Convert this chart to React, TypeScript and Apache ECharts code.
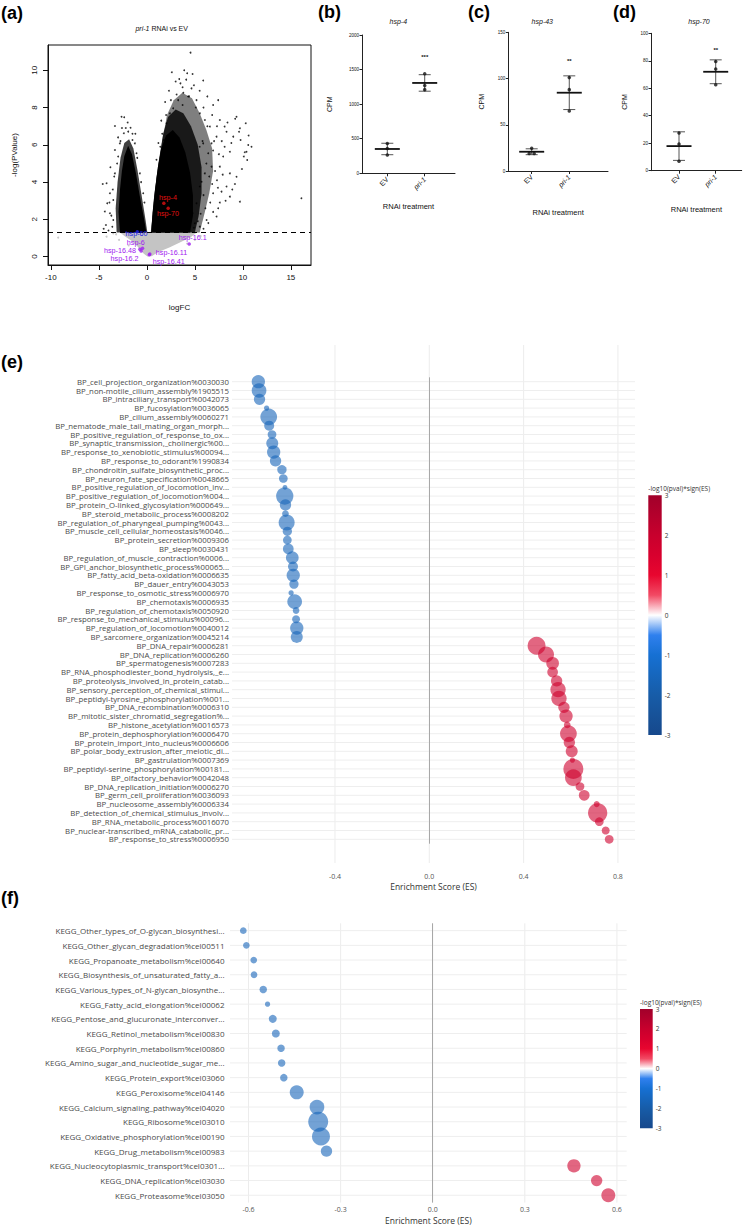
import React, { useEffect, useRef } from "react";
import * as echarts from "echarts";

// ================= Panel (a): volcano plot =================
const volcanoXTicks = [-10, -5, 0, 5, 10, 15];
const volcanoYTicks = [0, 2, 4, 6, 8, 10];
const pThreshold = 1.3;

// outlines of the regions fully covered by gene points (logFC, -log(P))
const cloudGrey = [[-2.8, 1.3], [-2.3, 1.1], [-1.6, 0.85], [-1.0, 0.55], [-0.4, 0.2], [0.05, 0.0], [0.5, 0.02], [1.2, 0.25], [2.4, 0.5], [3.6, 0.8], [4.6, 1.05], [5.2, 1.3]];
const cloudLeftFringe = [[-3.15, 1.3], [-3.25, 2.6], [-3.05, 4.0], [-2.75, 5.3], [-2.35, 6.1], [-1.85, 6.3], [-1.4, 5.8], [-1.0, 4.7], [-0.55, 3.3], [-0.15, 2.0], [0.05, 1.3]];
const cloudLeftCore = [[-2.8, 1.3], [-2.95, 2.4], [-2.8, 3.6], [-2.6, 4.6], [-2.35, 5.4], [-1.95, 5.95], [-1.55, 5.5], [-1.15, 4.5], [-0.75, 3.3], [-0.35, 2.2], [-0.05, 1.3]];
const cloudRightOuter = [[0.4, 1.3], [1.0, 4.2], [1.6, 6.2], [2.1, 7.6], [2.8, 8.4], [3.7, 8.8], [4.7, 8.5], [5.5, 7.7], [6.2, 6.8], [6.8, 5.8], [6.9, 4.6], [6.5, 3.4], [6.0, 2.3], [5.5, 1.3]];
const cloudRightInner = [[0.45, 1.3], [0.75, 3.2], [1.2, 5.0], [1.7, 6.6], [2.2, 7.5], [3.0, 7.9], [3.8, 7.7], [4.6, 7.0], [5.3, 6.0], [5.7, 4.8], [5.7, 3.4], [5.4, 2.2], [5.0, 1.3]];
const cloudRightCore = [[0.45, 1.3], [0.6, 2.4], [0.85, 3.6], [1.15, 4.8], [1.5, 5.8], [2.0, 6.5], [2.7, 6.8], [3.4, 6.4], [4.0, 5.6], [4.5, 4.5], [4.8, 3.3], [4.8, 2.2], [4.5, 1.3]];

const sparseGenes = [
  [4.55, 10.95], [3.89, 10.0], [4.2, 9.84], [4.76, 9.8], [3.37, 9.53], [5.87, 9.45], [4.65, 9.03], [3.72, 9.09],
  [4.3, 8.6], [3.26, 8.4], [5.17, 8.4], [7.43, 8.4], [6.9, 8.14], [9.34, 7.51], [10.3, 7.16], [9.69, 6.89],
  [8.3, 6.7], [9.0, 6.44], [9.76, 6.26], [10.56, 5.99], [10.9, 5.9], [10.38, 5.63], [10.1, 5.37], [10.45, 5.19],
  [8.65, 5.63], [7.95, 5.37], [7.6, 4.83], [8.65, 4.47], [9.34, 4.29], [9.17, 3.9], [8.3, 3.76], [7.78, 3.49],
  [8.65, 3.22], [6.9, 3.4], [7.43, 2.6], [9.69, 2.95], [7.26, 2.15], [6.22, 1.97], [16.1, 3.13], [6.74, 6.08],
  [5.87, 6.08], [6.39, 5.55], [6.56, 6.98], [6.04, 7.33], [7.6, 7.33], [8.1, 6.98], [7.26, 6.44], [5.52, 7.69],
  [2.74, 7.96], [2.4, 7.69], [3.72, 8.14], [2.05, 7.16], [1.77, 6.26], [1.7, 5.72], [6.74, 4.83], [6.04, 4.47],
  [5.7, 4.02], [5.52, 3.76], [5.17, 2.86], [4.76, 2.33], [5.0, 1.79], [5.52, 1.61], [4.13, 1.61],
  [5.8, 6.2], [6.2, 5.0], [6.5, 4.3], [5.9, 3.3], [6.1, 2.6], [5.6, 2.3], [5.3, 1.9], [4.9, 1.55], [5.5, 5.9],
  [6.9, 5.7], [7.1, 4.6], [6.8, 3.9], [7.3, 4.1], [6.6, 2.9], [7.0, 6.2], [6.3, 7.0], [5.1, 8.0], [4.4, 8.6],
  [3.8, 8.8], [3.1, 8.7], [2.5, 8.4], [2.0, 7.6], [1.6, 6.6], [1.4, 5.9], [4.9, 9.2], [3.5, 9.3], [8.8, 6.1],
  [8.1, 5.9], [9.6, 6.7], [10.2, 5.6], [9.9, 4.7], [8.9, 3.6], [8.2, 3.0], [7.6, 2.9], [10.6, 6.5], [8.4, 7.2], [9.2, 7.4],
  [2.3, 8.9], [3.0, 9.4], [2.6, 9.9], [4.1, 9.5], [5.5, 8.9], [6.3, 8.6], [5.9, 8.0], [6.8, 7.6], [7.3, 7.0], [7.8, 6.2],
  [7.5, 5.5], [7.9, 4.4], [7.4, 3.7], [6.9, 2.4], [6.4, 1.8], [5.9, 1.5], [1.9, 8.3], [1.5, 7.3], [1.2, 6.1], [1.0, 5.2],
  [-2.64, 7.51], [-2.36, 7.48], [-3.33, 7.01], [-1.7, 6.92], [-1.94, 6.71], [-2.4, 6.62], [-3.33, 5.72], [-2.99, 5.37],
  [-4.2, 3.94], [-3.85, 3.4], [-4.13, 2.86], [-4.38, 2.42], [-3.85, 2.33], [-3.5, 1.97], [-4.27, 1.7], [-3.33, 4.47],
  [-3.5, 3.04], [-1.25, 6.08], [-1.08, 5.55], [-0.73, 4.47], [-0.38, 3.4], [-1.5, 6.26], [-2.81, 6.08],
  [-3.6, 1.6], [-3.7, 2.2], [-3.9, 2.9], [-3.55, 3.6], [-3.4, 4.3], [-3.1, 5.0], [-2.75, 6.2], [-2.2, 6.9],
  [-1.5, 6.6], [-1.0, 5.3], [-0.6, 4.0], [-0.25, 2.9], [-4.6, 3.9], [-4.5, 1.5],
  [-2.6, 6.9], [-2.0, 7.2], [-1.2, 6.6], [-3.0, 6.4], [-3.8, 4.8], [-4.0, 1.4],
];
const sparseGreyGenes = [[-9.24, 1.02], [-3.5, 1.25], [-4.2, 1.07], [-3.2, 1.2], [-2.9, 0.9], [5.6, 1.1], [5.0, 0.9], [4.2, 0.7], [-1.9, 0.6]];

const hspGenes = ["hsp-4", "hsp-70", "hsp-60", "hsp-6", "hsp-16.48", "hsp-16.2", "hsp-16.11", "hsp-16.41", "hsp-16.1"];
const hspLogFC = [1.77, 2.22, -1.0, -0.45, -0.73, -0.6, 0.31, 0.25, 4.41];
const hspLogP = [2.87, 2.6, 1.33, 0.45, 0.4, 0.3, 0.14, 0.1, 0.68];
const hspLabelFC = [2.2, 2.2, -1.07, -1.15, -2.8, -2.32, 2.57, 2.27, 4.77];
const hspLabelP = [3.17, 2.29, 1.22, 0.76, 0.33, -0.08, 0.21, -0.27, 1.02];
const hspGroup = ["up", "up", "down", "ns", "ns", "ns", "ns", "ns", "ns"];

// ================= Panels (b)-(d): CPM dot plots =================
const rnaiGroups = ["EV", "pri-1"];
const hsp4EV = [430, 360, 265];
const hsp4Pri1 = [1440, 1270, 1210];
const hsp43EV = [24.5, 19, 19];
const hsp43Pri1 = [101, 88, 65];
const hsp70EV = [27.4, 19.5, 6.8];
const hsp70Pri1 = [79.5, 74, 62.5];
const cpmMax = [2000, 150, 100];
const cpmStep = [500, 50, 20];
const sigLabels = ["***", "**", "**"];
const sigY = [1686, 119, 87.6];
const geneTitles = ["hsp-4", "hsp-43", "hsp-70"];

// ================= Panel (e): GO BP enrichment =================
const eTerms = [
  "BP_cell_projection_organization%0030030",
  "BP_non-motile_cilium_assembly%1905515",
  "BP_intraciliary_transport%0042073",
  "BP_fucosylation%0036065",
  "BP_cilium_assembly%0060271",
  "BP_nematode_male_tail_mating_organ_morph...",
  "BP_positive_regulation_of_response_to_ox...",
  "BP_synaptic_transmission,_cholinergic%00...",
  "BP_response_to_xenobiotic_stimulus%00094...",
  "BP_response_to_odorant%1990834",
  "BP_chondroitin_sulfate_biosynthetic_proc...",
  "BP_neuron_fate_specification%0048665",
  "BP_positive_regulation_of_locomotion_inv...",
  "BP_positive_regulation_of_locomotion%004...",
  "BP_protein_O-linked_glycosylation%000649...",
  "BP_steroid_metabolic_process%0008202",
  "BP_regulation_of_pharyngeal_pumping%0043...",
  "BP_muscle_cell_cellular_homeostasis%0046...",
  "BP_protein_secretion%0009306",
  "BP_sleep%0030431",
  "BP_regulation_of_muscle_contraction%0006...",
  "BP_GPI_anchor_biosynthetic_process%00065...",
  "BP_fatty_acid_beta-oxidation%0006635",
  "BP_dauer_entry%0043053",
  "BP_response_to_osmotic_stress%0006970",
  "BP_chemotaxis%0006935",
  "BP_regulation_of_chemotaxis%0050920",
  "BP_response_to_mechanical_stimulus%00096...",
  "BP_regulation_of_locomotion%0040012",
  "BP_sarcomere_organization%0045214",
  "BP_DNA_repair%0006281",
  "BP_DNA_replication%0006260",
  "BP_spermatogenesis%0007283",
  "BP_RNA_phosphodiester_bond_hydrolysis,_e...",
  "BP_proteolysis_involved_in_protein_catab...",
  "BP_sensory_perception_of_chemical_stimul...",
  "BP_peptidyl-tyrosine_phosphorylation%001...",
  "BP_DNA_recombination%0006310",
  "BP_mitotic_sister_chromatid_segregation%...",
  "BP_histone_acetylation%0016573",
  "BP_protein_dephosphorylation%0006470",
  "BP_protein_import_into_nucleus%0006606",
  "BP_polar_body_extrusion_after_meiotic_di...",
  "BP_gastrulation%0007369",
  "BP_peptidyl-serine_phosphorylation%00181...",
  "BP_olfactory_behavior%0042048",
  "BP_DNA_replication_initiation%0006270",
  "BP_germ_cell_proliferation%0036093",
  "BP_nucleosome_assembly%0006334",
  "BP_detection_of_chemical_stimulus_involv...",
  "BP_RNA_metabolic_process%0016070",
  "BP_nuclear-transcribed_mRNA_catabolic_pr...",
  "BP_response_to_stress%0006950",
];
const eES = [
  -0.725, -0.722, -0.72, -0.69, -0.681, -0.679, -0.667, -0.666, -0.66, -0.652,
  -0.625, -0.619, -0.612, -0.613, -0.61, -0.61, -0.605, -0.602, -0.602, -0.598,
  -0.581, -0.578, -0.577, -0.574, -0.586, -0.571, -0.565, -0.565, -0.562, -0.562,
  0.455, 0.495, 0.523, 0.523, 0.54, 0.546, 0.55, 0.571, 0.58, 0.585,
  0.59, 0.594, 0.604, 0.607, 0.611, 0.611, 0.639, 0.657, 0.71, 0.714,
  0.721, 0.748, 0.763,
];
const eSize = [
  13.3, 14.7, 11.3, 5.3, 16.7, 10, 8.7, 12, 13.3, 11.3,
  9.3, 8.7, 4.7, 17.3, 11.3, 6.7, 16, 9.3, 8.7, 10.7,
  12.7, 10, 13.3, 9.3, 5.3, 14.7, 6.7, 8, 13.3, 12,
  18, 16, 12.7, 10.7, 11.3, 15.3, 15.3, 11.3, 13.3, 6.7,
  16.7, 11.3, 12, 5.3, 20, 16.7, 8.7, 10.7, 6, 19.3,
  8.7, 8, 8.7,
];
const eScore = [
  -1.6, -1.6, -1.6, -1.6, -1.6, -1.6, -1.6, -1.6, -1.6, -1.6,
  -1.6, -1.6, -1.6, -1.6, -1.6, -1.6, -1.6, -1.6, -1.6, -1.6,
  -1.6, -1.6, -1.6, -1.6, -1.6, -1.6, -1.6, -1.6, -1.6, -1.6,
  1.8, 1.8, 1.8, 1.8, 1.8, 1.8, 1.8, 1.8, 1.8, 1.8,
  1.8, 1.8, 1.8, 1.8, 1.8, 1.8, 1.8, 1.8, 1.8, 1.8,
  1.8, 1.8, 1.8,
];
const eTicks = [-0.4, 0, 0.4, 0.8];

// ================= Panel (f): KEGG enrichment =================
const fTerms = [
  "KEGG_Other_types_of_O-glycan_biosynthesi...",
  "KEGG_Other_glycan_degradation%cel00511",
  "KEGG_Propanoate_metabolism%cel00640",
  "KEGG_Biosynthesis_of_unsaturated_fatty_a...",
  "KEGG_Various_types_of_N-glycan_biosynthe...",
  "KEGG_Fatty_acid_elongation%cel00062",
  "KEGG_Pentose_and_glucuronate_interconver...",
  "KEGG_Retinol_metabolism%cel00830",
  "KEGG_Porphyrin_metabolism%cel00860",
  "KEGG_Amino_sugar_and_nucleotide_sugar_me...",
  "KEGG_Protein_export%cel03060",
  "KEGG_Peroxisome%cel04146",
  "KEGG_Calcium_signaling_pathway%cel04020",
  "KEGG_Ribosome%cel03010",
  "KEGG_Oxidative_phosphorylation%cel00190",
  "KEGG_Drug_metabolism%cel00983",
  "KEGG_Nucleocytoplasmic_transport%cel0301...",
  "KEGG_DNA_replication%cel03030",
  "KEGG_Proteasome%cel03050",
];
const fES = [-0.617, -0.607, -0.583, -0.582, -0.552, -0.538, -0.521, -0.511, -0.494, -0.492, -0.485, -0.443, -0.377, -0.373, -0.364, -0.346, 0.46, 0.534, 0.572];
const fSize = [6.7, 6.7, 6.7, 6.7, 7.5, 5.3, 8, 8, 7.5, 7.5, 7.5, 14, 14.7, 20, 18, 11.3, 13.3, 11.3, 14];
const fScore = [-1.6, -1.6, -1.6, -1.6, -1.6, -1.6, -1.6, -1.6, -1.6, -1.6, -1.6, -1.6, -1.6, -1.6, -1.6, -1.6, 1.8, 1.8, 1.8];
const fTicks = [-0.6, -0.3, 0, 0.3, 0.6];

// colour scale of -log10(pval)*sign(ES), from -3 to 3
const esColorScale = ["#16488c", "#175299", "#175ca8", "#1666bd", "#1670d3", "#2f80ee", "#ffffff", "#f24a64", "#e8062f", "#d8002e", "#c8002d", "#b4002c", "#a1002a"];

// ---------------------------------------------------------------
const SANS = "Liberation Sans, Arial, sans-serif";
const OPEN = "Open Sans, sans-serif";
const groupColor: Record<string, string> = { up: "#e01010", down: "#1a1ae6", ns: "#a020f0" };

function meanSd(a: number[]) {
  const m = a.reduce((s, v) => s + v, 0) / a.length;
  const sd = Math.sqrt(a.reduce((s, v) => s + (v - m) * (v - m), 0) / (a.length - 1));
  return [m, sd];
}

function buildOption() {
  const grids: any[] = [];
  const xAxes: any[] = [];
  const yAxes: any[] = [];
  const series: any[] = [];

  // ---- grid 0 : volcano
  grids.push({ left: 48, top: 45, width: 263, height: 220, show: true, borderColor: "#111", borderWidth: 1, backgroundColor: "transparent" });
  xAxes.push({
    gridIndex: 0, type: "value", min: -10.3, max: 17.1,
    axisLine: { show: true, onZero: false, lineStyle: { color: "#111" } },
    axisTick: { show: true, customValues: volcanoXTicks, length: 5, lineStyle: { color: "#111" } },
    axisLabel: { customValues: volcanoXTicks, fontSize: 8, color: "#111", margin: 8, fontFamily: SANS },
    splitLine: { show: false },
    name: "logFC", nameLocation: "middle", nameGap: 38,
    nameTextStyle: { fontSize: 8, color: "#111", fontFamily: SANS },
  });
  yAxes.push({
    gridIndex: 0, type: "value", min: -0.45, max: 11.36,
    axisLine: { show: true, onZero: false, lineStyle: { color: "#111" } },
    axisTick: { show: true, customValues: volcanoYTicks, length: 5, lineStyle: { color: "#111" } },
    axisLabel: { customValues: volcanoYTicks, fontSize: 8, color: "#111", margin: 10, rotate: 90, fontFamily: SANS },
    splitLine: { show: false },
    name: "-log(PValue)", nameLocation: "middle", nameGap: 30,
    nameTextStyle: { fontSize: 8, color: "#111", fontFamily: SANS },
  });

  const poly = (pts: number[][], fill: string, z: number) => ({
    type: "custom", xAxisIndex: 0, yAxisIndex: 0, silent: true, z,
    data: [pts[0]],
    renderItem: (_p: any, api: any) => ({
      type: "polygon",
      shape: { points: pts.map((p) => api.coord(p)) },
      style: { fill },
    }),
  });
  series.push(poly(cloudGrey, "#c4c4c4", 2));
  series.push({
    type: "scatter", xAxisIndex: 0, yAxisIndex: 0, silent: true, z: 2,
    data: sparseGreyGenes, symbolSize: 2, itemStyle: { color: "#bdbdbd" },
  });
  series.push(poly(cloudLeftFringe, "rgba(0,0,0,0.75)", 3));
  series.push(poly(cloudRightOuter, "rgba(0,0,0,0.5)", 3));
  series.push(poly(cloudRightInner, "rgba(0,0,0,0.8)", 3));
  series.push(poly(cloudLeftCore, "#000", 3));
  series.push(poly(cloudRightCore, "#000", 3));
  series.push({
    type: "scatter", xAxisIndex: 0, yAxisIndex: 0, silent: true, z: 4,
    data: sparseGenes, symbolSize: 1.8, itemStyle: { color: "#000" },
    markLine: {
      silent: true, symbol: ["none", "none"], label: { show: false },
      lineStyle: { type: [5, 4], color: "#000", width: 1.2 },
      data: [{ yAxis: pThreshold }],
    },
  });
  series.push({
    type: "scatter", xAxisIndex: 0, yAxisIndex: 0, silent: true, z: 6,
    data: hspGenes.map((g, i) => ({ value: [hspLogFC[i], hspLogP[i]], itemStyle: { color: groupColor[hspGroup[i]] } })),
    symbolSize: 3.5,
  });
  series.push({
    type: "custom", xAxisIndex: 0, yAxisIndex: 0, silent: true, z: 7,
    data: hspGenes.map((g, i) => [hspLabelFC[i], hspLabelP[i]]),
    renderItem: (p: any, api: any) => {
      const i = p.dataIndex;
      const c = api.coord([hspLabelFC[i], hspLabelP[i]]);
      return {
        type: "text", x: c[0], y: c[1],
        style: {
          text: hspGenes[i], fill: groupColor[hspGroup[i]], font: `7.2px ${SANS}`,
          align: "center", verticalAlign: "middle", textAlign: "center", textVerticalAlign: "middle",
        },
      };
    },
  });

  // ---- grids 1-3 : CPM dot plots
  const dotGrids = [
    { left: 362, top: 35, width: 93, height: 138.3, xmin: 0.323, xmax: 2.81, nameGapY: 29, nameGapX: 29 },
    { left: 508.3, top: 32.3, width: 99.7, height: 138.7, xmin: 0.378, xmax: 3.03, nameGapY: 23, nameGapX: 37 },
    { left: 651, top: 33.3, width: 90.7, height: 137.4, xmin: 0.237, xmax: 2.708, nameGapY: 23, nameGapX: 35 },
  ];
  const dotData = [[hsp4EV, hsp4Pri1], [hsp43EV, hsp43Pri1], [hsp70EV, hsp70Pri1]];
  dotGrids.forEach((g, k) => {
    const gi = 1 + k;
    grids.push({ left: g.left, top: g.top, width: g.width, height: g.height });
    xAxes.push({
      gridIndex: gi, type: "value", min: g.xmin, max: g.xmax,
      axisLine: { show: true, onZero: false, lineStyle: { color: "#222", width: 1 } },
      axisTick: { show: true, customValues: [1, 2], length: 3, lineStyle: { color: "#222" } },
      axisLabel: {
        customValues: [1, 2], rotate: 45, margin: 5, fontSize: 7, color: "#111", fontFamily: SANS,
        formatter: (v: number) => (v === 1 ? rnaiGroups[0] : `{i|${rnaiGroups[1]}}`),
        rich: { i: { fontStyle: "italic", fontSize: 7, color: "#111", fontFamily: SANS } },
      },
      splitLine: { show: false },
      name: "RNAi treatment", nameLocation: "middle", nameGap: g.nameGapX,
      nameTextStyle: { fontSize: 7.5, color: "#111", fontFamily: SANS },
    });
    yAxes.push({
      gridIndex: gi, type: "value", min: 0, max: cpmMax[k], interval: cpmStep[k],
      axisLine: { show: true, onZero: false, lineStyle: { color: "#222", width: 1 } },
      axisTick: { show: true, length: 2.5, lineStyle: { color: "#222" } },
      axisLabel: { fontSize: 4.5, margin: 3, color: "#111", fontFamily: SANS, formatter: (v: number) => String(v) },
      splitLine: { show: false },
      name: "CPM", nameLocation: "middle", nameGap: g.nameGapY,
      nameTextStyle: { fontSize: 7, color: "#111", fontFamily: SANS },
    });
    const [ev, pri] = dotData[k];
    const pts: any[] = [];
    [ev, pri].forEach((arr, gIdx) => {
      arr.forEach((v, j) => {
        const dup = arr.filter((w) => w === v).length > 1;
        const off = dup ? (arr.indexOf(v) === j ? -2.5 : 2.5) : 0;
        pts.push({ value: [gIdx + 1, v], symbolOffset: [off, 0] });
      });
    });
    series.push({
      type: "custom", xAxisIndex: gi, yAxisIndex: gi, silent: true, z: 3,
      data: [ev, pri].map((arr, gIdx) => [gIdx + 1, ...meanSd(arr)]),
      renderItem: (_p: any, api: any) => {
        const x = api.value(0), m = api.value(1), sd = api.value(2);
        const c = api.coord([x, m]);
        const t = api.coord([x, m + sd]);
        const b = api.coord([x, m - sd]);
        const err = { stroke: "#555", lineWidth: 1 };
        return {
          type: "group",
          children: [
            { type: "line", shape: { x1: c[0], y1: t[1], x2: c[0], y2: b[1] }, style: err },
            { type: "line", shape: { x1: c[0] - 6, y1: t[1], x2: c[0] + 6, y2: t[1] }, style: err },
            { type: "line", shape: { x1: c[0] - 6, y1: b[1], x2: c[0] + 6, y2: b[1] }, style: err },
            { type: "line", shape: { x1: c[0] - 12.5, y1: c[1], x2: c[0] + 12.5, y2: c[1] }, style: { stroke: "#111", lineWidth: 1.8 } },
          ],
        };
      },
    });
    series.push({
      type: "scatter", xAxisIndex: gi, yAxisIndex: gi, silent: true, z: 4,
      data: pts, symbolSize: 3.5, itemStyle: { color: "#111" },
    });
    series.push({
      type: "custom", xAxisIndex: gi, yAxisIndex: gi, silent: true, z: 5,
      data: [[2, sigY[k]]],
      renderItem: (_p: any, api: any) => {
        const c = api.coord([2, sigY[k]]);
        return {
          type: "text", x: c[0], y: c[1],
          style: { text: sigLabels[k], fill: "#111", font: `bold 6px ${SANS}`, align: "center", verticalAlign: "middle", textAlign: "center", textVerticalAlign: "middle" },
        };
      },
    });
  });

  // ---- grid 4 : (e) background (vertical grid lines + ES axis)
  const eMin = -0.8367, eMax = 0.8724;
  grids.push({ left: 232, top: 345, width: 403, height: 518 });
  xAxes.push({
    gridIndex: 4, type: "value", min: eMin, max: eMax,
    axisLine: { show: false }, axisTick: { show: false, customValues: eTicks },
    axisLabel: { customValues: eTicks, formatter: (v: number) => v.toFixed(1), fontSize: 7, color: "#555", margin: 10, fontFamily: OPEN },
    splitLine: { show: false },
    name: "Enrichment Score (ES)", nameLocation: "middle", nameGap: 19,
    nameTextStyle: { fontSize: 8.5, color: "#333", fontFamily: OPEN },
  });
  yAxes.push({ gridIndex: 4, type: "value", min: 0, max: 1, show: false });
  series.push({
    type: "custom", xAxisIndex: 4, yAxisIndex: 4, silent: true, z: 1,
    data: eTicks.map((v) => [v, 0.5]),
    renderItem: (p: any, api: any) => {
      const cs = p.coordSys;
      const x = api.coord([api.value(0), 0.5])[0];
      return { type: "line", shape: { x1: x, y1: cs.y, x2: x, y2: cs.y + cs.height }, style: { stroke: "#ececec", lineWidth: 1 } };
    },
  });

  // ---- grid 5 : (e) bubbles
  grids.push({ left: 232, top: 377.3, width: 403, height: 466.4 });
  xAxes.push({ gridIndex: 5, type: "value", min: eMin, max: eMax, show: false });
  yAxes.push({
    gridIndex: 5, type: "category", data: eTerms, inverse: true, boundaryGap: true,
    axisLine: { show: false }, axisTick: { show: false }, splitLine: { show: false },
    axisLabel: { interval: 0, fontSize: 7.8, color: "#4a4a4a", margin: 3, fontFamily: OPEN },
  });
  series.push({
    type: "custom", xAxisIndex: 5, yAxisIndex: 5, silent: true, z: 1,
    data: eTerms.map((t, i) => [0, i]),
    renderItem: (p: any, api: any) => {
      const cs = p.coordSys;
      const y = api.coord([0, p.dataIndex])[1];
      return { type: "line", shape: { x1: cs.x, y1: y, x2: cs.x + cs.width, y2: y }, style: { stroke: "#eeeeee", lineWidth: 1 } };
    },
  });
  const eBubbleIdx = series.length;
  series.push({
    type: "scatter", xAxisIndex: 5, yAxisIndex: 5, silent: true, z: 3, clip: false,
    data: eTerms.map((t, i) => [eES[i], i, eScore[i], eSize[i]]),
    symbolSize: (v: number[]) => v[3],
    itemStyle: { opacity: 0.6 },
    markLine: {
      silent: true, symbol: ["none", "none"], label: { show: false },
      lineStyle: { type: "solid", color: "#a8a8a8", width: 1 },
      data: [{ xAxis: 0 }],
    },
  });

  // ---- grid 6 : (e) colour bar
  const cbarFill = new echarts.graphic.LinearGradient(0, 0, 0, 1,
    [...esColorScale].reverse().map((c, i, arr) => ({ offset: i / (arr.length - 1), color: c })));
  const cbarAxes = (gi: number) => {
    xAxes.push({ gridIndex: gi, type: "value", min: 0, max: 1, show: false });
    yAxes.push({
      gridIndex: gi, type: "value", min: -3, max: 3, interval: 1, position: "right",
      axisLine: { show: false }, axisTick: { show: false }, splitLine: { show: false },
      axisLabel: { fontSize: 6.5, color: "#333", margin: 3, fontFamily: OPEN },
    });
    series.push({
      type: "custom", xAxisIndex: gi, yAxisIndex: gi, silent: true, z: 2,
      data: [[0.5, 0]],
      renderItem: (p: any) => {
        const cs = p.coordSys;
        return { type: "rect", shape: { x: cs.x, y: cs.y, width: cs.width, height: cs.height }, style: { fill: cbarFill } };
      },
    });
  };
  grids.push({ left: 648.3, top: 495.3, width: 13.4, height: 239.7 });
  cbarAxes(6);

  // ---- grid 7 : (f) bubbles
  const fMin = -0.6603, fMax = 0.6319;
  grids.push({ left: 230, top: 923.3, width: 396.7, height: 279.3 });
  xAxes.push({
    gridIndex: 7, type: "value", min: fMin, max: fMax,
    axisLine: { show: false }, axisTick: { show: false, customValues: fTicks },
    axisLabel: { customValues: fTicks, formatter: (v: number) => v.toFixed(1), fontSize: 7, color: "#555", margin: 3, fontFamily: OPEN },
    splitLine: { show: false },
    name: "Enrichment Score (ES)", nameLocation: "middle", nameGap: 13,
    nameTextStyle: { fontSize: 8.5, color: "#333", fontFamily: OPEN },
  });
  yAxes.push({
    gridIndex: 7, type: "category", data: fTerms, inverse: true, boundaryGap: true,
    axisLine: { show: false }, axisTick: { show: false }, splitLine: { show: false },
    axisLabel: { interval: 0, fontSize: 8, color: "#4a4a4a", margin: 5.5, fontFamily: OPEN },
  });
  series.push({
    type: "custom", xAxisIndex: 7, yAxisIndex: 7, silent: true, z: 1,
    data: fTicks.map((v) => [v, 0]),
    renderItem: (p: any, api: any) => {
      const cs = p.coordSys;
      const x = api.coord([api.value(0), 0])[0];
      return { type: "line", shape: { x1: x, y1: cs.y, x2: x, y2: cs.y + cs.height }, style: { stroke: "#ececec", lineWidth: 1 } };
    },
  });
  series.push({
    type: "custom", xAxisIndex: 7, yAxisIndex: 7, silent: true, z: 1,
    data: fTerms.map((t, i) => [0, i]),
    renderItem: (p: any, api: any) => {
      const cs = p.coordSys;
      const y = api.coord([0, p.dataIndex])[1];
      return { type: "line", shape: { x1: cs.x, y1: y, x2: cs.x + cs.width, y2: y }, style: { stroke: "#eeeeee", lineWidth: 1 } };
    },
  });
  const fBubbleIdx = series.length;
  series.push({
    type: "scatter", xAxisIndex: 7, yAxisIndex: 7, silent: true, z: 3, clip: false,
    data: fTerms.map((t, i) => [fES[i], i, fScore[i], fSize[i]]),
    symbolSize: (v: number[]) => v[3],
    itemStyle: { opacity: 0.6 },
    markLine: {
      silent: true, symbol: ["none", "none"], label: { show: false },
      lineStyle: { type: "solid", color: "#a8a8a8", width: 1 },
      data: [{ xAxis: 0 }],
    },
  });

  // ---- grid 8 : (f) colour bar
  grids.push({ left: 640, top: 1009, width: 12.7, height: 119.3 });
  cbarAxes(8);

  const txt = (text: string, x: number, y: number, font: string, align = "left", fill = "#000", rich?: any) => ({
    type: "text", x, y, silent: true, z: 100,
    style: { text, x: 0, y: 0, font, fill, align, verticalAlign: "middle", textAlign: align, textVerticalAlign: "middle", rich },
  });
  const panelFont = `bold 18px ${SANS}`;
  const graphic = [
    txt("(a)", 1, 12.5, panelFont),
    txt("(b)", 318, 11.5, panelFont),
    txt("(c)", 468, 11.5, panelFont),
    txt("(d)", 613, 11.5, panelFont),
    txt("(e)", 1, 361.7, panelFont),
    txt("(f)", 1, 897.7, panelFont),
    txt("{i|pri-1} RNAi vs EV", 161.7, 28.3, `7px ${SANS}`, "center", "#111", { i: { fontStyle: "italic", fontSize: 7, fontFamily: SANS, fill: "#111" } }),
    txt(geneTitles[0], 398.3, 21, `italic 7px ${SANS}`, "center", "#111"),
    txt(geneTitles[1], 542.3, 21, `italic 7px ${SANS}`, "center", "#111"),
    txt(geneTitles[2], 699, 21, `italic 7px ${SANS}`, "center", "#111"),
    txt("-log10(pval)*sign(ES)", 648.3, 488.3, `6.5px ${OPEN}`, "left", "#333"),
    txt("-log10(pval)*sign(ES)", 640, 1002.3, `6.5px ${OPEN}`, "left", "#333"),
  ];

  return {
    animation: false,
    backgroundColor: "#fff",
    textStyle: { fontFamily: SANS },
    grid: grids,
    xAxis: xAxes,
    yAxis: yAxes,
    visualMap: [{
      type: "continuous", show: false, min: -3, max: 3, dimension: 2,
      seriesIndex: [eBubbleIdx, fBubbleIdx],
      inRange: { color: esColorScale },
    }],
    graphic,
    series,
  };
}

export default function App() {
  const ref = useRef<HTMLDivElement>(null);
  useEffect(() => {
    const chart = echarts.init(ref.current!, null, { renderer: "svg" });
    chart.setOption(buildOption() as any);
    return () => chart.dispose();
  }, []);
  return (
    <div
      ref={ref}
      style={{ position: "absolute", left: 0, top: 0, width: 743, height: 1226, background: "#fff" }}
    />
  );
}
